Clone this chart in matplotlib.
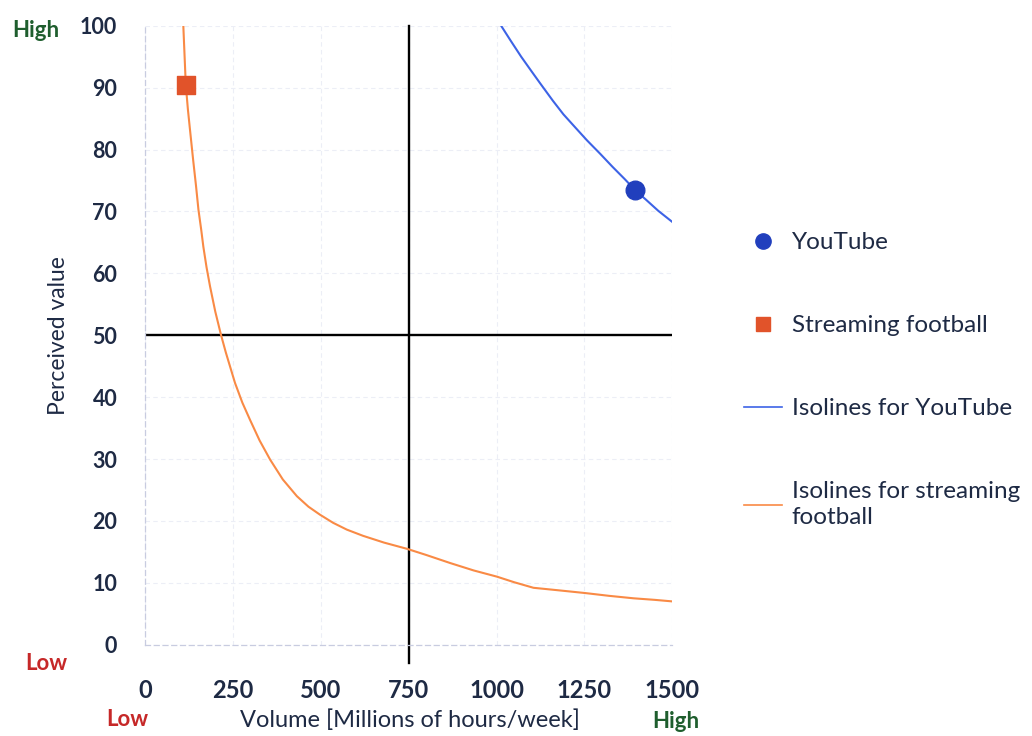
import matplotlib
matplotlib.use('Agg')
import matplotlib.pyplot as plt
from matplotlib.lines import Line2D

plt.rcParams['font.family'] = ['Lato', 'DejaVu Sans']

# points
youtube_x = [1395]
youtube_y = [73.4]
football_x = [116]
football_y = [90.5]

# isoline for youtube
yt_iso_x = [1013, 1040, 1070, 1100, 1124, 1160, 1190, 1225, 1257, 1295, 1330, 1365, 1395, 1425, 1460, 1500]
yt_iso_y = [100, 97.6, 95.0, 92.6, 90.7, 87.9, 85.7, 83.5, 81.5, 79.3, 77.2, 75.2, 73.4, 71.9, 70.1, 68.3]

# isoline for streaming football
fb_iso_x = [109, 116, 122, 128, 137, 145, 152, 160, 166, 175, 185, 200, 216, 230, 256, 277, 299,
            326, 356, 392, 432, 465, 498, 535, 574, 620, 680, 745, 800, 868, 935, 1001, 1050,
            1105, 1175, 1252, 1320, 1390, 1450, 1500]
fb_iso_y = [100, 90.5, 86.5, 83.2, 78.3, 74.2, 70.3, 67.0, 64.3, 61.0, 57.9, 53.8, 50.1, 47.2, 42.3,
            39.1, 36.3, 33.0, 29.9, 26.7, 24.0, 22.3, 21.0, 19.7, 18.6, 17.6, 16.5, 15.5, 14.5, 13.2,
            12.0, 11.0, 10.1, 9.2, 8.8, 8.35, 7.9, 7.5, 7.25, 7.0]

x_ticks = [0, 250, 500, 750, 1000, 1250, 1500]
y_ticks = [0, 10, 20, 30, 40, 50, 60, 70, 80, 90, 100]

navy = '#1e2a44'
red = '#c62828'
green = '#1f5e2e'

fig = plt.figure(figsize=(10.32, 7.36), dpi=100)
ax = fig.add_axes([0.1405, 0.124, 0.511, 0.841])

ax.plot(fb_iso_x, fb_iso_y, color='#f98a45', lw=1.5, zorder=3, solid_joinstyle='round')
ax.plot(yt_iso_x, yt_iso_y, color='#3d63e6', lw=1.5, zorder=3, solid_joinstyle='round')
ax.scatter(football_x, football_y, marker='s', s=160, color='#e1532a', zorder=4)
ax.scatter(youtube_x, youtube_y, marker='o', s=180, color='#213fbd', zorder=4)

# quadrant lines
ax.plot([750, 750], [100, -3], color='black', lw=1.7, clip_on=False, zorder=2)
ax.plot([0, 1495], [50, 50], color='black', lw=1.7, zorder=2)

ax.set_xlim(0, 1500)
ax.set_ylim(0, 100)
ax.set_xticks(x_ticks)
ax.set_yticks(y_ticks)
ax.tick_params(length=0, labelcolor=navy)
ax.tick_params(axis='x', pad=25, labelsize=17)
ax.tick_params(axis='y', pad=20, labelsize=15.5)
for lab in ax.get_xticklabels() + ax.get_yticklabels():
    lab.set_fontweight('bold')

ax.grid(True, color='#eceef6', lw=0.8, ls=(0, (4, 3)))
for s in ['top', 'right']:
    ax.spines[s].set_visible(False)
for s in ['left', 'bottom']:
    ax.spines[s].set_color('#c8cce0')
    ax.spines[s].set_linestyle((0, (4, 3)))
    ax.spines[s].set_linewidth(0.9)

ax.set_ylabel('Perceived value', fontsize=16.5, color=navy, labelpad=8)
fig.text(0.397, 0.022, 'Volume [Millions of hours/week]', fontsize=17, color=navy,
         ha='center', va='center')
fig.text(0.123, 0.022, 'Low', fontsize=16, color=red, fontweight='bold', ha='center', va='center')
fig.text(0.655, 0.020, 'High', fontsize=16, color=green, fontweight='bold', ha='center', va='center')
fig.text(0.045, 0.099, 'Low', fontsize=16, color=red, fontweight='bold', ha='center', va='center')
fig.text(0.035, 0.959, 'High', fontsize=16, color=green, fontweight='bold', ha='center', va='center')

handles = [
    Line2D([], [], marker='o', ls='none', color='#213fbd', markersize=11),
    Line2D([], [], marker='s', ls='none', color='#e1532a', markersize=10),
    Line2D([], [], color='#3d63e6', lw=1.2),
    Line2D([], [], color='#f98a45', lw=1.2),
]
labels = ['YouTube', 'Streaming football', 'Isolines for YouTube', 'Isolines for streaming\nfootball']
leg = fig.legend(handles, labels, loc='upper left', bbox_to_anchor=(0.7095, 0.701),
                 frameon=False, fontsize=17.5, labelspacing=2.55, handlelength=1.55,
                 handletextpad=0.4, borderpad=0)
for t in leg.get_texts():
    t.set_color(navy)
    t.set_linespacing(1.3)

fig.savefig('out.png', dpi=100)
